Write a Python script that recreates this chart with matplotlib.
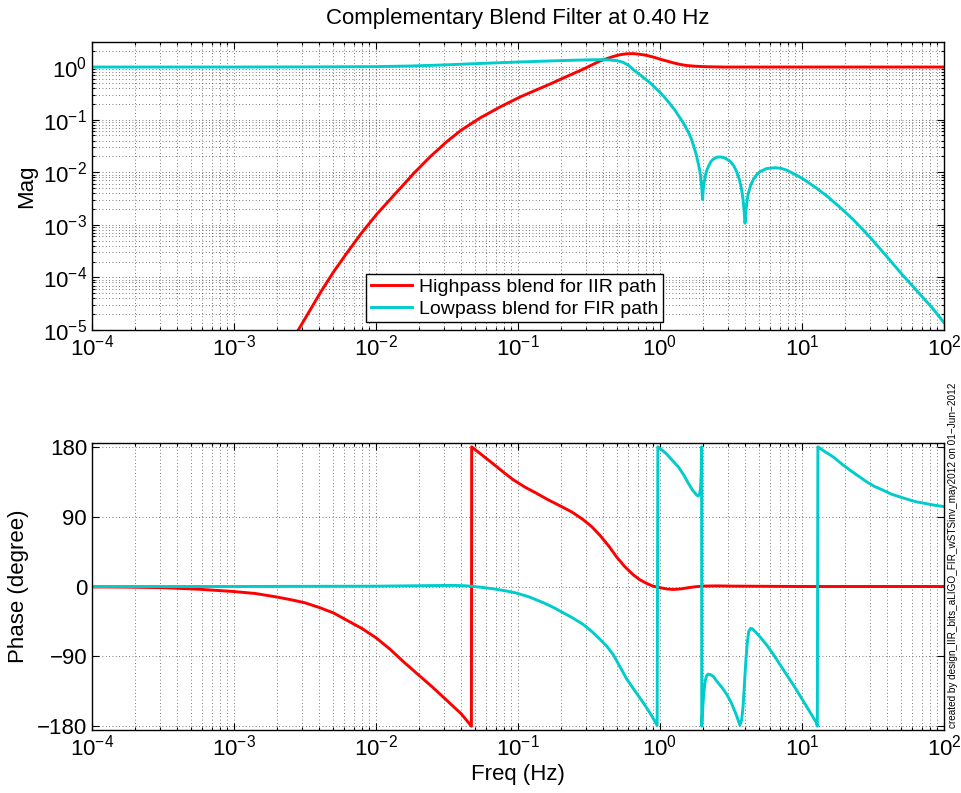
import numpy as np
import matplotlib
matplotlib.use("Agg")
import matplotlib.pyplot as plt
from matplotlib.ticker import LogLocator, NullFormatter, FixedLocator

plt.rcParams['font.family'] = ['Liberation Sans', 'DejaVu Sans']
plt.rcParams['mathtext.default'] = 'regular'
plt.rcParams['axes.unicode_minus'] = True

# ---------------- data ----------------
# frequencies are stored as log10(Hz), magnitudes as log10(|H|)
title = "Complementary Blend Filter at 0.40 Hz"
label_hp = "Highpass blend for IIR path"
label_lp = "Lowpass blend for FIR path"
note = "created by design_IIR_bits_aLIGO_FIR_wSTSinv_may2012 on 01\u2212Jun\u22122012"

# Highpass (IIR path) magnitude
hp_mag_logf = [-2.62, -2.547, -2.47, -2.394, -2.30, -2.206, -2.10, -1.995, -1.878,
               -1.80, -1.737, -1.62, -1.502, -1.40, -1.268, -1.127, -0.986, -0.892,
               -0.78, -0.657, -0.54, -0.423, -0.33, -0.28, -0.235, -0.19, -0.15,
               -0.11, -0.07, -0.035, 0.0, 0.047, 0.094, 0.14, 0.188, 0.25, 0.329,
               0.45, 1.0, 2.0]
hp_mag_logm = [-5.3, -5.0, -4.65, -4.30, -3.90, -3.54, -3.15, -2.80, -2.45,
               -2.22, -2.03, -1.71, -1.42, -1.20, -0.97, -0.76, -0.57, -0.46,
               -0.33, -0.18, -0.04, 0.115, 0.20, 0.235, 0.252, 0.255, 0.245,
               0.23, 0.206, 0.18, 0.15, 0.115, 0.08, 0.05, 0.029, 0.015, 0.006,
               0.0, 0.0, 0.0]

# Lowpass (FIR path) magnitude
lp_mag_logf = [-4, -3, -2.5, -2, -1.75, -1.5, -1.25, -1.0, -0.75, -0.6, -0.5, -0.423,
               -0.36, -0.30, -0.26, -0.22, -0.188, -0.13, -0.07, 0.0, 0.04, 0.10,
               0.164, 0.20, 0.223, 0.245, 0.258, 0.272, 0.282, 0.290, 0.295, 0.300,
               0.305, 0.312, 0.320, 0.330, 0.341, 0.358, 0.376, 0.40, 0.423, 0.45,
               0.493, 0.52, 0.540, 0.56, 0.575, 0.585, 0.592, 0.599, 0.606, 0.613,
               0.622, 0.64, 0.657, 0.68, 0.704, 0.751, 0.810, 0.85, 0.892, 0.95,
               1.009, 1.09, 1.174, 1.26, 1.361, 1.48, 1.596, 1.71, 1.831, 1.92, 2.0]
lp_mag_logm = [0, 0, 0.002, 0.008, 0.02, 0.042, 0.07, 0.095, 0.118, 0.13, 0.137, 0.14,
               0.137, 0.12, 0.09, 0.03, -0.05, -0.17, -0.30, -0.48, -0.60, -0.80,
               -1.06, -1.24, -1.38, -1.57, -1.70, -1.86, -2.00, -2.18, -2.32, -2.52,
               -2.32, -2.18, -2.06, -1.96, -1.89, -1.80, -1.75, -1.715, -1.71, -1.72,
               -1.79, -1.88, -1.99, -2.15, -2.33, -2.52, -2.72, -2.97, -2.72, -2.55,
               -2.40, -2.24, -2.14, -2.05, -1.99, -1.93, -1.915, -1.925, -1.96, -2.04,
               -2.13, -2.28, -2.45, -2.65, -2.90, -3.24, -3.60, -3.96, -4.32, -4.59, -4.86]

# Highpass phase (degree)
hp_ph_logf = [-4, -3.75, -3.5, -3.25, -3.0, -2.85, -2.7, -2.6, -2.5, -2.4, -2.3,
              -2.2, -2.1, -2.0, -1.9, -1.8, -1.7, -1.6, -1.5, -1.4, -1.328, -1.326,
              -1.25, -1.174, -1.10, -1.033, -0.95, -0.868, -0.79, -0.704, -0.62,
              -0.54, -0.48, -0.423, -0.36, -0.305, -0.25, -0.188, -0.14, -0.094,
              -0.05, 0.0, 0.05, 0.094, 0.15, 0.2, 0.25, 0.3, 0.4, 0.5, 0.7, 1.0, 2.0]
hp_ph = [-0.5, -0.8, -1.5, -3.5, -6.5, -9, -13.5, -17, -21, -27, -34,
         -44, -54, -66, -81, -98, -114, -130, -147, -164, -180, 180,
         169, 158, 147, 137.5, 128, 120, 112, 104, 96,
         86, 77, 66, 52, 38, 26, 15, 8.5, 4,
         0.5, -1.5, -3.2, -3.8, -3, -1.5, -0.3, 0.5, 0.8, 0.5, 0.3, 0, 0]

# Lowpass phase (degree)
lp_ph_logf = [-4, -3, -2, -1.8, -1.6, -1.45, -1.38, -1.32, -1.25, -1.174, -1.09,
              -1.01, -0.92, -0.82, -0.75, -0.68, -0.61, -0.54, -0.48, -0.423, -0.37,
              -0.329, -0.28, -0.235, -0.175, -0.117, -0.06, -0.02, -0.015, 0.04, 0.08,
              0.13, 0.17, 0.20, 0.23, 0.258, 0.270, 0.280, 0.286, 0.290, 0.293,
              0.294, 0.300, 0.308, 0.318, 0.328, 0.338, 0.355, 0.376, 0.40, 0.44,
              0.47, 0.50, 0.53, 0.55, 0.563, 0.575, 0.585, 0.595, 0.605, 0.615,
              0.625, 0.638, 0.65, 0.67, 0.70, 0.75, 0.80, 0.85, 0.90, 0.95, 1.00,
              1.05, 1.10, 1.108, 1.112, 1.16, 1.22, 1.28, 1.338, 1.40, 1.455, 1.51,
              1.573, 1.63, 1.69, 1.75, 1.808, 1.87, 1.925, 2.0]
lp_ph = [0, 0, 0.4, 0.8, 1.2, 1.4, 1.0, 0.2, -1.2, -3, -5.5,
         -8.5, -13.5, -21, -27, -34, -41, -49, -58, -68, -78,
         -88, -104, -119, -135, -150, -166, -179, 180, 172, 164,
         154, 143, 133, 124, 118, 116.5, 120, 128, 145, 180,
         -180, -160, -138, -122, -115, -113, -113.5, -116, -122, -131,
         -139, -149, -162, -172, -179, -172, -155, -125, -95, -72,
         -58, -54, -54.5, -58, -64, -75, -88, -102, -116, -130, -145,
         -160, -175, -180, 180, 174, 167, 158, 150, 142, 135, 129,
         124, 119, 115.5, 112, 109, 107, 105, 103]

phase_ticks = [-180, -90, 0, 90, 180]

# ---------------- styling ----------------
RED = '#ff0000'
CYAN = '#00cccc'
LW = 2.1
FS = 16

fig = plt.figure(figsize=(9.61, 7.93), dpi=100)
ax1 = fig.add_axes([0.0957, 0.5839, 0.8866, 0.3632])
ax2 = fig.add_axes([0.0957, 0.0794, 0.8866, 0.3620])


def style(ax, yminor=True):
    ax.set_xscale('log')
    ax.set_xlim(1e-4, 1e2)
    ax.xaxis.set_major_locator(LogLocator(base=10, numticks=20))
    ax.xaxis.set_minor_locator(LogLocator(base=10, subs=np.arange(2, 10), numticks=100))
    ax.xaxis.set_minor_formatter(NullFormatter())
    ax.tick_params(which='both', direction='in', top=True, right=True,
                   labelsize=FS, width=0.8)
    ax.tick_params(which='major', length=5)
    ax.tick_params(which='minor', length=2.5)
    gridkw = dict(color='0.3', linestyle=(0, (1, 3)), linewidth=0.6)
    ax.grid(True, which='major', axis='both', **gridkw)
    ax.grid(True, which='minor', axis='x', **gridkw)
    if yminor:
        ax.grid(True, which='minor', axis='y', **gridkw)
    for s in ax.spines.values():
        s.set_linewidth(1.0)
    ax.set_axisbelow(True)


def hz(logf):
    return np.power(10.0, np.asarray(logf, dtype=float))


# ---- magnitude ----
style(ax1, yminor=True)
ax1.set_yscale('log')
ax1.set_ylim(1e-5, 3)
ax1.yaxis.set_major_locator(LogLocator(base=10, numticks=20))
ax1.yaxis.set_minor_locator(LogLocator(base=10, subs=np.arange(2, 10), numticks=100))
ax1.yaxis.set_minor_formatter(NullFormatter())
ax1.plot(hz(hp_mag_logf), hz(hp_mag_logm), color=RED, lw=LW, label=label_hp)
ax1.plot(hz(lp_mag_logf), hz(lp_mag_logm), color=CYAN, lw=LW, label=label_lp)
ax1.set_ylabel('Mag', fontsize=FS, labelpad=4)
ax1.set_title(title, fontsize=FS, pad=13)
leg = ax1.legend(loc='lower left', bbox_to_anchor=(0.322, 0.026), fontsize=14,
                 frameon=True, fancybox=False, framealpha=1, edgecolor='black',
                 borderpad=0.25, labelspacing=0.2, handlelength=2.1,
                 handletextpad=0.35, borderaxespad=0)
leg.get_frame().set_linewidth(1.0)

# ---- phase ----
style(ax2, yminor=False)
ax2.set_ylim(-185, 185)
ax2.yaxis.set_major_locator(FixedLocator(phase_ticks))
ax2.plot(hz(hp_ph_logf), hp_ph, color=RED, lw=LW)
ax2.plot(hz(lp_ph_logf), lp_ph, color=CYAN, lw=LW)
ax2.set_ylabel('Phase (degree)', fontsize=FS, labelpad=6)
ax2.set_xlabel('Freq (Hz)', fontsize=FS, labelpad=2)

fig.text(0.9917, 0.082, note, rotation=90, fontsize=7.2, ha='center', va='bottom')

fig.savefig('out.png', dpi=100)
